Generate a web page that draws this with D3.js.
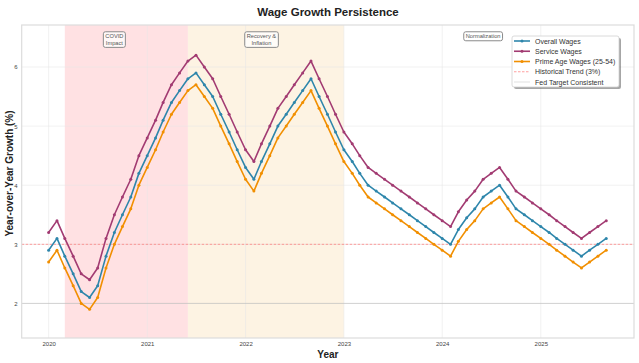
<!DOCTYPE html>
<html>
<head>
<meta charset="utf-8">
<script src="https://cdn.jsdelivr.net/npm/d3@7"></script>
<style>
  body { margin: 0; background: #fff; }
  svg { font-family: "Liberation Sans", Arial, sans-serif; }
</style>
</head>
<body>
<div id="chart"></div>
<script>
// monthly YoY wage growth, Jan 2020 .. Sep 2025
var startMonth = new Date(2020, 0, 1);

var overallWages = [2.9, 3.1, 2.8, 2.5, 2.2, 2.1, 2.3, 2.8, 3.2, 3.5, 3.8, 4.2,
    4.5, 4.8, 5.1, 5.4, 5.6, 5.8, 5.9, 5.7, 5.5, 5.2, 4.9, 4.6,
    4.3, 4.1, 4.4, 4.7, 5.0, 5.2, 5.4, 5.6, 5.8, 5.5, 5.2, 4.9,
    4.6, 4.4, 4.2, 4.0, 3.9, 3.8, 3.7, 3.6, 3.5, 3.4, 3.3, 3.2,
    3.1, 3.0, 3.25, 3.45, 3.6, 3.8, 3.9, 4.0, 3.8, 3.6, 3.5, 3.4,
    3.3, 3.2, 3.1, 3.0, 2.9, 2.8, 2.9, 3.0, 3.1];

var serviceWages = [3.2, 3.4, 3.1, 2.8, 2.5, 2.4, 2.6, 3.1, 3.5, 3.8, 4.1, 4.5,
    4.8, 5.1, 5.4, 5.7, 5.9, 6.1, 6.2, 6.0, 5.8, 5.5, 5.2, 4.9,
    4.6, 4.4, 4.7, 5.0, 5.3, 5.5, 5.7, 5.9, 6.1, 5.8, 5.5, 5.2,
    4.9, 4.7, 4.5, 4.3, 4.2, 4.1, 4.0, 3.9, 3.8, 3.7, 3.6, 3.5,
    3.4, 3.3, 3.55, 3.75, 3.9, 4.1, 4.2, 4.3, 4.1, 3.9, 3.8, 3.7,
    3.6, 3.5, 3.4, 3.3, 3.2, 3.1, 3.2, 3.3, 3.4];

var primeAgeWages = [2.7, 2.9, 2.6, 2.3, 2.0, 1.9, 2.1, 2.6, 3.0, 3.3, 3.6, 4.0,
    4.3, 4.6, 4.9, 5.2, 5.4, 5.6, 5.7, 5.5, 5.3, 5.0, 4.7, 4.4,
    4.1, 3.9, 4.2, 4.5, 4.8, 5.0, 5.2, 5.4, 5.6, 5.3, 5.0, 4.7,
    4.4, 4.2, 4.0, 3.8, 3.7, 3.6, 3.5, 3.4, 3.3, 3.2, 3.1, 3.0,
    2.9, 2.8, 3.05, 3.25, 3.4, 3.6, 3.7, 3.8, 3.6, 3.4, 3.3, 3.2,
    3.1, 3.0, 2.9, 2.8, 2.7, 2.6, 2.7, 2.8, 2.9];

var seriesNames = ["Overall Wages", "Service Wages", "Prime Age Wages (25-54)"];
var seriesColors = ["#2E86AB", "#A23B72", "#F18F01"];

var historicalTrend = 3.0;
var fedTarget = 2.0;

var periodStarts = [new Date(2020, 2, 1), new Date(2021, 5, 1)];
var periodEnds = [new Date(2021, 5, 1), new Date(2023, 0, 1)];
var periodColors = ["#ffe1e3", "#fdf3e3"];

var noteLabels = [["COVID", "Impact"], ["Recovery &", "Inflation"], ["Normalization"]];
var noteDates = [new Date(2020, 8, 1), new Date(2022, 2, 1), new Date(2024, 5, 1)];
var noteY = 6.57;

var yTicks = [2, 3, 4, 5, 6];
var xTickYears = [2020, 2021, 2022, 2023, 2024, 2025];

var svgWidth = 639;
var svgHeight = 363;

var plot = { left: 21.7, right: 634, top: 25, bottom: 338 };

var svg = d3.select("#chart")
    .append("svg")
    .attr("width", svgWidth)
    .attr("height", svgHeight);

var months = overallWages.map((d, i) => d3.timeMonth.offset(startMonth, i));

var xScale = d3.scaleTime()
    .domain([new Date(2019, 8, 23), new Date(2025, 11, 13)])
    .range([plot.left, plot.right]);

var yScale = d3.scaleLinear()
    .domain([1.415, 6.71])
    .range([plot.bottom, plot.top]);

// shaded periods
svg.selectAll("rect.period")
    .data(periodStarts)
    .enter()
    .append("rect")
    .attr("class", "period")
    .attr("x", (d, i) => xScale(d))
    .attr("y", plot.top)
    .attr("width", (d, i) => xScale(periodEnds[i]) - xScale(d))
    .attr("height", plot.bottom - plot.top)
    .attr("fill", (d, i) => periodColors[i]);

// grid
var xTickDates = xTickYears.map(y => new Date(y, 0, 1));
svg.append("g")
    .selectAll("line")
    .data(xTickDates)
    .enter()
    .append("line")
    .attr("x1", d => xScale(d)).attr("x2", d => xScale(d))
    .attr("y1", plot.top).attr("y2", plot.bottom)
    .attr("stroke", "#e6e6e6")
    .attr("stroke-opacity", 0.7)
    .attr("stroke-width", 0.8);

svg.append("g")
    .selectAll("line")
    .data(yTicks)
    .enter()
    .append("line")
    .attr("x1", plot.left).attr("x2", plot.right)
    .attr("y1", d => yScale(d)).attr("y2", d => yScale(d))
    .attr("stroke", "#e6e6e6")
    .attr("stroke-opacity", 0.7)
    .attr("stroke-width", 0.8);

// reference lines
svg.append("line")
    .attr("x1", plot.left).attr("x2", plot.right)
    .attr("y1", yScale(fedTarget)).attr("y2", yScale(fedTarget))
    .attr("stroke", "#999")
    .attr("stroke-opacity", 0.35)
    .attr("stroke-width", 1);

svg.append("line")
    .attr("x1", plot.left).attr("x2", plot.right)
    .attr("y1", yScale(historicalTrend)).attr("y2", yScale(historicalTrend))
    .attr("stroke", "#ff4d4d")
    .attr("stroke-opacity", 0.6)
    .attr("stroke-width", 0.9)
    .attr("stroke-dasharray", "2.5,1.5");

// frame
svg.append("rect")
    .attr("x", plot.left)
    .attr("y", plot.top)
    .attr("width", plot.right - plot.left)
    .attr("height", plot.bottom - plot.top)
    .attr("fill", "none")
    .attr("stroke", "#dcdcdc")
    .attr("stroke-width", 1.2);

// series
var allSeries = [overallWages, serviceWages, primeAgeWages];
var line = d3.line()
    .x((d, i) => xScale(months[i]))
    .y(d => yScale(d));

allSeries.forEach(function(values, s) {
    svg.append("path")
        .datum(values)
        .attr("d", line)
        .attr("fill", "none")
        .attr("stroke", seriesColors[s])
        .attr("stroke-width", 1.6)
        .attr("stroke-linejoin", "round");

    svg.append("g")
        .selectAll("circle")
        .data(values)
        .enter()
        .append("circle")
        .attr("cx", (d, i) => xScale(months[i]))
        .attr("cy", d => yScale(d))
        .attr("r", 1.5)
        .attr("fill", seriesColors[s]);
});

// annotations
noteLabels.forEach(function(lines, i) {
    var g = svg.append("g")
        .attr("transform", `translate(${xScale(noteDates[i])}, ${yScale(noteY)})`);
    var t = g.append("text")
        .attr("text-anchor", "middle")
        .style("font-size", "5.7px")
        .attr("fill", "#555");
    lines.forEach(function(l, j) {
        t.append("tspan")
            .attr("x", 0)
            .attr("y", 5 + j * 6.6)
            .text(l);
    });
    var bb = t.node().getBBox();
    g.insert("rect", "text")
        .attr("x", bb.x - 2)
        .attr("y", bb.y - 1.5)
        .attr("width", bb.width + 4)
        .attr("height", bb.height + 3)
        .attr("rx", 2)
        .attr("fill", "#fff")
        .attr("fill-opacity", 0.75)
        .attr("stroke", "#8a8a8a")
        .attr("stroke-width", 1);
});

// axes tick labels
var bottomAxis = d3.axisBottom(xScale)
    .tickValues(xTickDates)
    .tickFormat(d3.timeFormat("%Y"))
    .tickSize(0)
    .tickPadding(4);

var leftAxis = d3.axisLeft(yScale)
    .tickValues(yTicks)
    .tickFormat(d3.format("d"))
    .tickSize(0)
    .tickPadding(4);

var gx = svg.append("g")
    .attr("transform", `translate(0, ${plot.bottom})`)
    .call(bottomAxis);
var gy = svg.append("g")
    .attr("transform", `translate(${plot.left}, 0)`)
    .call(leftAxis);

[gx, gy].forEach(function(g) {
    g.select(".domain").remove();
    g.selectAll("text")
        .style("font-size", "6px")
        .style("font-family", "'Liberation Sans', Arial, sans-serif")
        .attr("fill", "#444");
});

// titles
svg.append("text")
    .attr("x", 328)
    .attr("y", 15.5)
    .attr("text-anchor", "middle")
    .style("font-size", "11.5px")
    .style("font-weight", "bold")
    .attr("fill", "#222")
    .text("Wage Growth Persistence");

svg.append("text")
    .attr("x", (plot.left + plot.right) / 2)
    .attr("y", 357.5)
    .attr("text-anchor", "middle")
    .style("font-size", "10px")
    .style("font-weight", "bold")
    .attr("fill", "#222")
    .text("Year");

svg.append("text")
    .attr("transform", `translate(12.5, ${(plot.top + plot.bottom) / 2 - 8}) rotate(-90)`)
    .attr("text-anchor", "middle")
    .style("font-size", "10px")
    .style("font-weight", "bold")
    .attr("fill", "#222")
    .text("Year-over-Year Growth (%)");

// legend
var legend = { x: 512, y: 36, w: 107, h: 51, rowH: 10.25 };
var legendItems = [
    { label: seriesNames[0], color: seriesColors[0], marker: true, dash: null, opacity: 1, width: 1.6 },
    { label: seriesNames[1], color: seriesColors[1], marker: true, dash: null, opacity: 1, width: 1.6 },
    { label: seriesNames[2], color: seriesColors[2], marker: true, dash: null, opacity: 1, width: 1.6 },
    { label: "Historical Trend (3%)", color: "#ff4d4d", marker: false, dash: "2.5,1.5", opacity: 0.6, width: 0.9 },
    { label: "Fed Target Consistent", color: "#999", marker: false, dash: null, opacity: 0.3, width: 1 }
];

svg.append("rect")
    .attr("x", legend.x + 2)
    .attr("y", legend.y + 2)
    .attr("width", legend.w)
    .attr("height", legend.h)
    .attr("rx", 2)
    .attr("fill", "#000")
    .attr("fill-opacity", 0.35);

svg.append("rect")
    .attr("x", legend.x)
    .attr("y", legend.y)
    .attr("width", legend.w)
    .attr("height", legend.h)
    .attr("rx", 2)
    .attr("fill", "#fff")
    .attr("stroke", "#d0d0d0")
    .attr("stroke-width", 0.8);

var rows = svg.append("g")
    .selectAll("g")
    .data(legendItems)
    .enter()
    .append("g")
    .attr("transform", (d, i) => `translate(${legend.x}, ${legend.y + 5 + i * legend.rowH})`);

rows.append("line")
    .attr("x1", 2).attr("x2", 18)
    .attr("y1", 0).attr("y2", 0)
    .attr("stroke", d => d.color)
    .attr("stroke-opacity", d => d.opacity)
    .attr("stroke-width", d => d.width)
    .attr("stroke-dasharray", d => d.dash);

rows.filter(d => d.marker)
    .append("circle")
    .attr("cx", 10).attr("cy", 0)
    .attr("r", 1.5)
    .attr("fill", d => d.color);

rows.append("text")
    .attr("x", 23)
    .attr("y", 2.5)
    .style("font-size", "7px")
    .attr("fill", "#333")
    .text(d => d.label);
</script>
</body>
</html>
